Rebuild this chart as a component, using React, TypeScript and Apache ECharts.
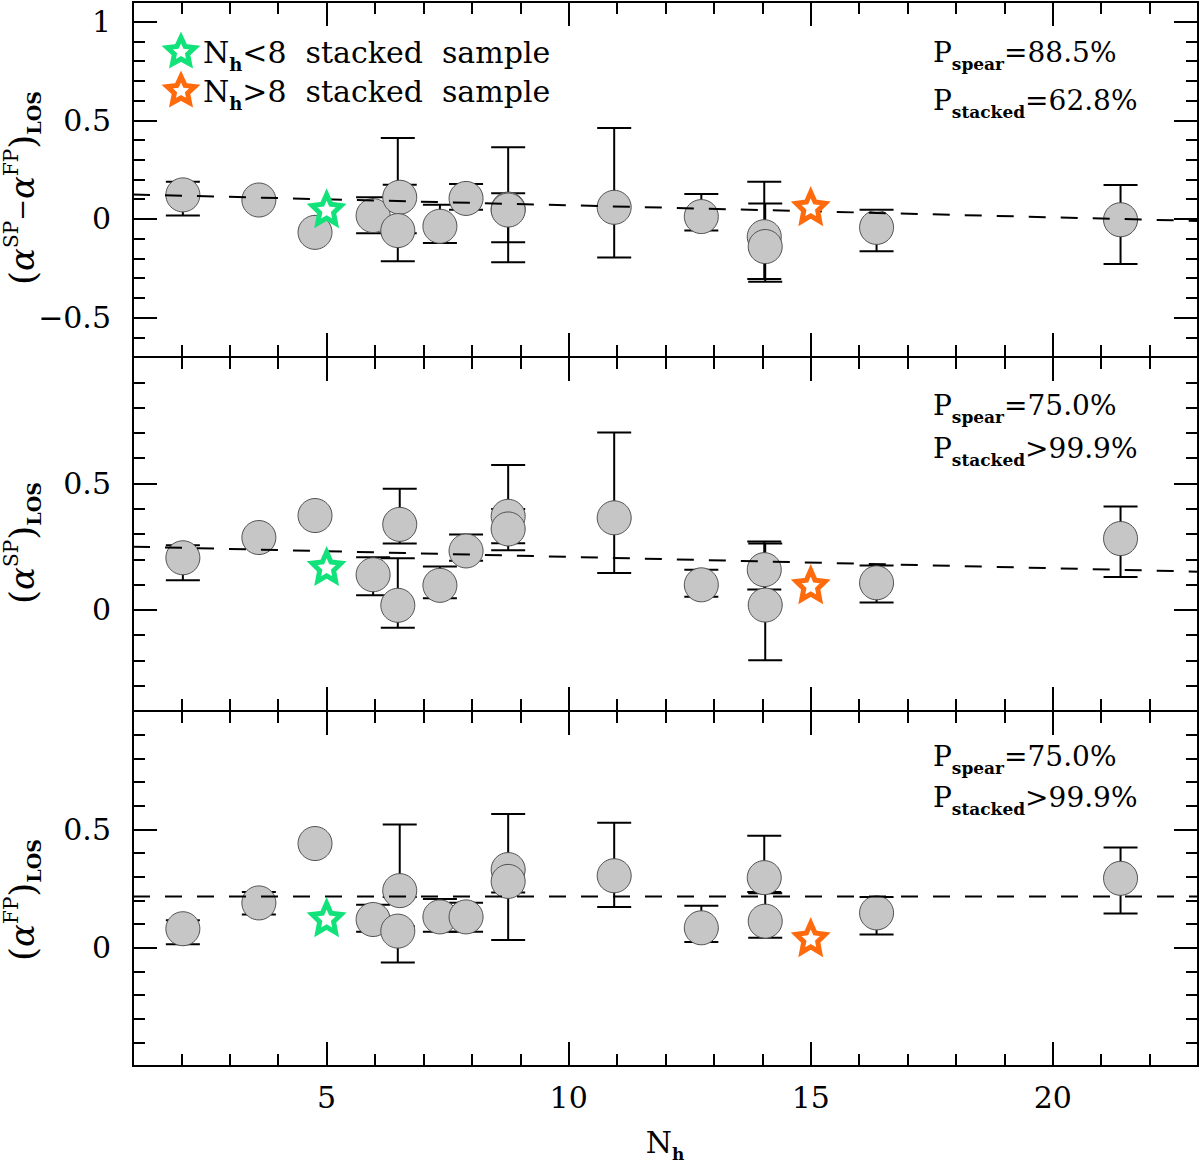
import { useEffect, useRef } from "react";
import * as echarts from "echarts";

const SERIF = "DejaVu Serif";
const GREEN = "#12e27a";
const ORANGE = "#ff6a0c";

// N_h of each group (the same groups appear in all three panels)
const groupNh = [2.03, 3.6, 4.76, 5.96, 6.51, 6.47, 7.34, 7.88, 8.75, 8.75, 10.94, 12.74, 14.04, 14.06, 16.36, 21.4];

// top panel: (alpha_SP - alpha_FP)_LOS
const diffVal = [0.122, 0.096, -0.068, 0.017, 0.11, -0.059, -0.037, 0.104, 0.05, 0.045, 0.059, 0.012, -0.09, -0.14, -0.043, -0.004];
const diffLo = [0.017, null, null, -0.073, -0.073, -0.215, -0.122, 0.046, -0.22, -0.118, -0.196, -0.059, -0.304, -0.318, -0.164, -0.228];
const diffHi = [0.189, null, null, 0.11, 0.174, 0.41, 0.072, 0.177, 0.363, 0.13, 0.461, 0.127, 0.189, 0.078, 0.046, 0.172];

// middle panel: (alpha_SP)_LOS
const spVal = [0.206, 0.286, 0.373, 0.139, 0.338, 0.018, 0.097, 0.233, 0.37, 0.32, 0.364, 0.099, 0.159, 0.019, 0.107, 0.282];
const spLo = [0.117, null, null, 0.058, 0.262, -0.071, 0.046, 0.194, 0.263, 0.236, 0.146, 0.052, 0.081, -0.199, 0.029, 0.13];
const spHi = [0.256, null, null, 0.208, 0.479, 0.204, 0.171, 0.298, 0.573, 0.399, 0.701, 0.159, 0.27, 0.262, 0.175, 0.409];

// bottom panel: (alpha_FP)_LOS
const fpVal = [0.08, 0.189, 0.44, 0.119, 0.241, 0.07, 0.13, 0.13, 0.33, 0.28, 0.304, 0.084, 0.296, 0.112, 0.147, 0.293];
const fpLo = [0.014, 0.14, null, 0.067, 0.214, -0.063, 0.067, 0.067, 0.233, 0.032, 0.172, 0.024, 0.235, 0.042, 0.056, 0.144];
const fpHi = [0.116, 0.235, null, 0.181, 0.52, 0.09, 0.206, 0.19, 0.565, 0.33, 0.528, 0.177, 0.473, 0.23, 0.214, 0.423];

// stacked samples (one per panel, top to bottom)
const stackedLowNh = 5;
const stackedHighNh = 15;
const stackedLow = [0.051, 0.171, 0.126];
const stackedHigh = [0.062, 0.099, 0.042];

// dashed fits
const fitDiff = [[1, 0.124], [23, -0.01]];
const fitSP = [[1, 0.25], [23, 0.151]];
const fitFP = [[1, 0.216], [23, 0.216]];

const pSpear = ["=88.5%", "=75.0%", "=75.0%"];
const pStacked = ["=62.8%", ">99.9%", ">99.9%"];

const xRange = [1, 23];
const xMajorTicks = [5, 10, 15, 20];
const yRanges = [[-0.7, 1.1], [-0.4, 1.0], [-0.5, 1.0]];
const yMajorTicks = [[-0.5, 0, 0.5, 1], [0, 0.5, 1], [0, 0.5, 1]];
const yLabelTicks = [[-0.5, 0, 0.5, 1], [0, 0.5], [0, 0.5]];

// layout
const GRID_LEFT = 133;
const GRID_WIDTH = 1065;
const GRID_TOPS = [2, 357, 711];
const GRID_HEIGHTS = [355, 354, 355];
const TITLE_Y = [188, 543, 900];
const ANNOT_Y = [[52, 100], [405, 448], [756, 797]];

const STAR_D =
  "M0 -50 L14.11 -19.42 L47.55 -15.45 L22.83 7.42 L29.39 40.45 L0 24 L-29.39 40.45 L-22.83 7.42 L-47.55 -15.45 L-14.11 -19.42 Z";
echarts.graphic.registerShape("legendStar", echarts.graphic.extendPath(STAR_D, {}));

const panels = [
  { val: diffVal, lo: diffLo, hi: diffHi, fit: fitDiff },
  { val: spVal, lo: spLo, hi: spHi, fit: fitSP },
  { val: fpVal, lo: fpLo, hi: fpHi, fit: fitFP },
];

const tickLine = { color: "#000", width: 2 };
const axisLine = { show: true, onZero: false, lineStyle: { color: "#000", width: 2 } };
const labelFont = { fontFamily: SERIF, fontSize: 30, color: "#000" };

const fmt = (v: number) => (v < 0 ? "\u2212" + Math.abs(v) : String(v));

function errorBar(params: any, api: any) {
  const x = api.value(0);
  const top = api.coord([x, api.value(2)]);
  const bot = api.coord([x, api.value(1)]);
  const half = 17;
  const style = { stroke: "#000", lineWidth: 2 };
  return {
    type: "group",
    children: [
      { type: "line", shape: { x1: top[0], y1: top[1], x2: bot[0], y2: bot[1] }, style },
      { type: "line", shape: { x1: top[0] - half, y1: top[1], x2: top[0] + half, y2: top[1] }, style },
      { type: "line", shape: { x1: bot[0] - half, y1: bot[1], x2: bot[0] + half, y2: bot[1] }, style },
    ],
  };
}

const annotRich = {
  m: { fontFamily: SERIF, fontSize: 28, verticalAlign: "middle" },
  s: { fontFamily: SERIF, fontSize: 17, fontWeight: "bold", verticalAlign: "middle", padding: [24, 0, 0, 0] },
};

const legendRich = {
  m: { fontFamily: SERIF, fontSize: 30, verticalAlign: "middle" },
  s: { fontFamily: SERIF, fontSize: 18, fontWeight: "bold", verticalAlign: "middle", padding: [24, 0, 0, 0] },
};

const titleRich = {
  p: { fontFamily: SERIF, fontSize: 36, verticalAlign: "middle" },
  mi: { fontFamily: SERIF, fontSize: 26, verticalAlign: "middle" },
  a: { fontFamily: SERIF, fontSize: 34, fontStyle: "italic", verticalAlign: "middle" },
  sp: { fontFamily: SERIF, fontSize: 20, verticalAlign: "middle", padding: [0, 0, 22, 0] },
  sb: { fontFamily: SERIF, fontSize: 19, fontWeight: "bold", verticalAlign: "middle", padding: [24, 0, 0, 0] },
};

const yTitles = [
  "{p|(}{a|\u03b1}{sp|SP}{mi|\u2212}{a|\u03b1}{sp|FP}{p|)}{sb|LOS}",
  "{p|(}{a|\u03b1}{sp|SP}{p|)}{sb|LOS}",
  "{p|(}{a|\u03b1}{sp|FP}{p|)}{sb|LOS}",
];

function textEl(x: number, y: number, text: string, rich: any, align = "left", rotation = 0) {
  return {
    type: "text",
    x,
    y,
    rotation,
    z: 10,
    style: {
      text,
      rich,
      fill: "#000",
      textAlign: align,
      align,
      textVerticalAlign: "middle",
      verticalAlign: "middle",
    },
  };
}

export default function App() {
  const ref = useRef<HTMLDivElement>(null);

  useEffect(() => {
    if (!ref.current) return;
    const chart = echarts.init(ref.current, null, { renderer: "svg" });

    const grids: any[] = [];
    const xAxes: any[] = [];
    const yAxes: any[] = [];
    const series: any[] = [];
    const graphic: any[] = [];

    panels.forEach((p, g) => {
      grids.push({
        left: GRID_LEFT,
        top: GRID_TOPS[g],
        width: GRID_WIDTH,
        height: GRID_HEIGHTS[g],
        containLabel: false,
        outerBoundsMode: "none",
      });

      (["bottom", "top"] as const).forEach((pos) => {
        const base = {
          type: "value",
          gridIndex: g,
          position: pos,
          min: xRange[0],
          max: xRange[1],
          axisLine,
          splitLine: { show: false },
        };
        xAxes.push({
          ...base,
          interval: 1,
          axisTick: { inside: true, length: 12, lineStyle: tickLine },
          axisLabel: { show: false },
        });
        xAxes.push({
          ...base,
          axisTick: { inside: true, length: 24, customValues: xMajorTicks, lineStyle: tickLine },
          axisLabel:
            pos === "bottom" && g === 2
              ? { show: true, customValues: xMajorTicks, margin: 16, ...labelFont }
              : { show: false },
        });
      });

      (["left", "right"] as const).forEach((pos) => {
        const base = {
          type: "value",
          gridIndex: g,
          position: pos,
          min: yRanges[g][0],
          max: yRanges[g][1],
          axisLine,
          splitLine: { show: false },
        };
        yAxes.push({
          ...base,
          interval: 0.1,
          axisTick: { inside: true, length: 12, lineStyle: tickLine },
          axisLabel: { show: false },
        });
        yAxes.push({
          ...base,
          axisTick: { inside: true, length: 24, customValues: yMajorTicks[g], lineStyle: tickLine },
          axisLabel:
            pos === "left"
              ? { show: true, customValues: yLabelTicks[g], margin: 22, formatter: fmt, ...labelFont }
              : { show: false },
        });
      });

      const xi = 4 * g;
      const bars = groupNh
        .map((x, i) => (p.lo[i] == null ? null : [x, p.lo[i], p.hi[i]]))
        .filter((d) => d != null);

      series.push({
        type: "custom",
        xAxisIndex: xi,
        yAxisIndex: xi,
        z: 2,
        silent: true,
        renderItem: errorBar,
        data: bars,
      });
      series.push({
        type: "scatter",
        xAxisIndex: xi,
        yAxisIndex: xi,
        z: 3,
        silent: true,
        symbol: "circle",
        symbolSize: 34,
        itemStyle: { color: "#c6c6c6", borderColor: "#505050", borderWidth: 1, opacity: 1 },
        data: groupNh.map((x, i) => [x, p.val[i]]),
      });
      series.push({
        type: "line",
        xAxisIndex: xi,
        yAxisIndex: xi,
        z: 4,
        silent: true,
        symbol: "none",
        lineStyle: { color: "#000", width: 2, type: [17, 15] },
        data: p.fit,
      });
      series.push({
        type: "scatter",
        xAxisIndex: xi,
        yAxisIndex: xi,
        z: 5,
        silent: true,
        symbol: "path://" + STAR_D,
        symbolSize: 29,
        itemStyle: { color: "#fff", borderColor: GREEN, borderWidth: 5, opacity: 1 },
        data: [[stackedLowNh, stackedLow[g]]],
      });
      series.push({
        type: "scatter",
        xAxisIndex: xi,
        yAxisIndex: xi,
        z: 5,
        silent: true,
        symbol: "path://" + STAR_D,
        symbolSize: 29,
        itemStyle: { color: "#fff", borderColor: ORANGE, borderWidth: 5, opacity: 1 },
        data: [[stackedHighNh, stackedHigh[g]]],
      });

      graphic.push(textEl(933, ANNOT_Y[g][0], "{m|P}{s|spear}{m|" + pSpear[g] + "}", annotRich));
      graphic.push(textEl(933, ANNOT_Y[g][1], "{m|P}{s|stacked}{m|" + pStacked[g] + "}", annotRich));
      graphic.push(textEl(22, TITLE_Y[g], yTitles[g], titleRich, "center", Math.PI / 2));
    });

    // legend
    [
      { y: 52, color: GREEN, label: "<8" },
      { y: 91, color: ORANGE, label: ">8" },
    ].forEach((row) => {
      graphic.push({
        type: "legendStar",
        x: 181,
        y: row.y,
        scaleX: 0.29,
        scaleY: 0.29,
        z: 10,
        style: { fill: "#fff", stroke: row.color, lineWidth: 5, strokeNoScale: true },
      });
      graphic.push(
        textEl(203, row.y, "{m|N}{s|h}{m|" + row.label + " \u00a0stacked \u00a0sample}", legendRich)
      );
    });

    // x-axis title
    graphic.push(
      textEl(
        665,
        1142,
        "{n|N}{s|h}",
        {
          n: { fontFamily: SERIF, fontSize: 30, verticalAlign: "middle" },
          s: annotRich.s,
        },
        "center"
      )
    );

    chart.setOption({
      animation: false,
      backgroundColor: "#fff",
      textStyle: { fontFamily: SERIF },
      grid: grids,
      xAxis: xAxes,
      yAxis: yAxes,
      series,
      graphic,
    });

    return () => {
      chart.dispose();
    };
  }, []);

  return (
    <div
      ref={ref}
      style={{ position: "absolute", left: 0, top: 0, width: 1200, height: 1165 }}
    />
  );
}
